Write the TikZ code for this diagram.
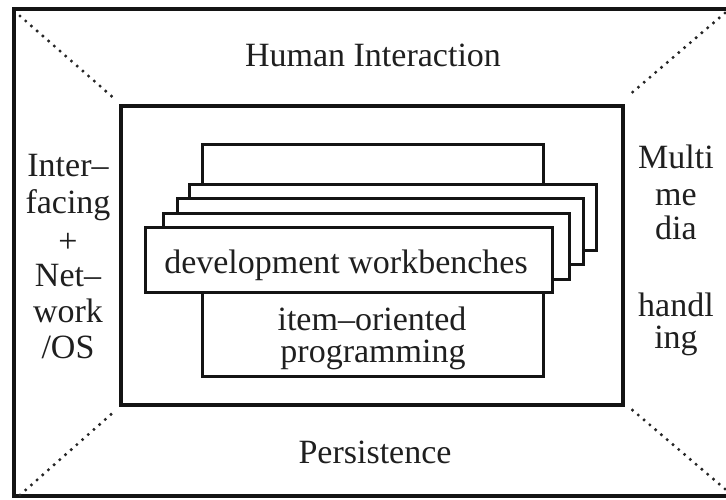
\documentclass[tikz,border=0pt]{standalone}
\usepackage{fontspec}
\setmainfont{Liberation Serif}
\begin{document}
\begin{tikzpicture}[x=1pt,y=-1pt,
  ink/.style={draw=black!92},
  frame/.style={ink, line width=3.2pt},
  layer/.style={ink, line width=3pt, fill=white, rectangle, inner sep=0pt},
  seam/.style={black!85, line width=3.4pt, line cap=round, dash pattern=on 0pt off 7.6pt},
  lbl/.style={text=black!88, font=\fontsize{34}{36.6}\selectfont, inner sep=0pt, anchor=base}
]
\clip (0,0) rectangle (726,500);

% outer frame (right side runs past the page edge)
\coordinate (oTL) at (14,9);
\coordinate (oBR) at (745,496);
\draw[frame] (oTL) rectangle (oBR);

% inner frame
\node[layer, line width=3.2pt, fill=none, minimum width=502pt, minimum height=299pt] (inner) at (372,255.5) {};

% dotted seams from the outer corners to the inner frame
\coordinate (sTL) at (20,16);
\coordinate (sTR) at (725,13);
\coordinate (sBL) at (20,495);
\coordinate (sBR) at (725,489);
\draw[seam] (sTL) -- ([shift={(-3,-4)}]inner.north west);
\draw[seam] (sTR) -- ([shift={(3,-8)}]inner.north east);
\draw[seam] (sBL) -- ([shift={(-3,3)}]inner.south west);
\draw[seam] (sBR) -- ([shift={(5,1)}]inner.south east);

% programming layer at the back
\node[layer, minimum width=341pt, minimum height=231pt] (prog) at (372.5,260.5) {};

% stacked workbench sheets, back to front
\node[layer, minimum width=407pt, minimum height=65pt] (wbA) at (392.5,217.5) {};
\node[layer, minimum width=406pt, minimum height=65pt] (wbB) at (380,231.5) {};
\node[layer, minimum width=406pt, minimum height=66pt] (wbC) at (366,246) {};
\node[layer, minimum width=407pt, minimum height=65pt] (wbD) at (348.5,259.5) {};

% labels
\node[lbl] (wbtext) at (346,273) {development workbenches};
\node[lbl] (progA) at (372,330) {item–oriented};
\node[lbl] (progB) at (373,362) {programming};

\node[lbl] (human) at (373,67) {Human Interaction};
\node[lbl] (persist) at (375,463) {Persistence};

\node[lbl] (l1) at (68,177) {Inter–};
\node[lbl] (l2) at (68,213) {facing};
\node[lbl] (l3) at (68,252) {+};
\node[lbl] (l4) at (68,286) {Net–};
\node[lbl] (l5) at (68,322) {work};
\node[lbl] (l6) at (68,358) {/OS};

\node[lbl] (r1) at (676,168) {Multi};
\node[lbl] (r2) at (676,205) {me};
\node[lbl] (r3) at (676,240) {dia};
\node[lbl] (r4) at (676,316) {handl};
\node[lbl] (r5) at (676,348) {ing};
\end{tikzpicture}
\end{document}
